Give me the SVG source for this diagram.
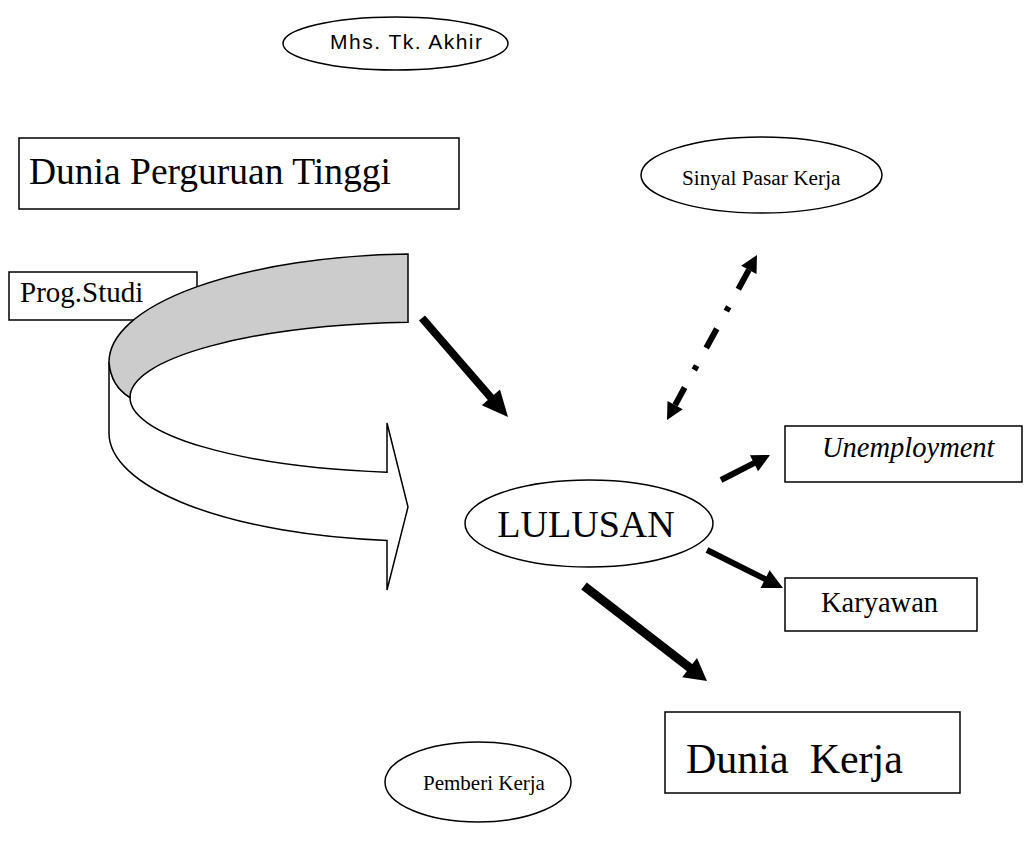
<svg xmlns="http://www.w3.org/2000/svg" width="1025" height="860" viewBox="0 0 1025 860">
<style>
.box{fill:#fff;stroke:#000;stroke-width:1.5}
.ell{fill:#fff;stroke:#000;stroke-width:1.5}
.serif{font-family:"Liberation Serif","Times New Roman",serif;fill:#000}
.sans{font-family:"Liberation Sans",Arial,sans-serif;fill:#000}
.shaft{stroke:#000;fill:none;stroke-linecap:butt}
.head{fill:#000;stroke:none}
.band{stroke:#000;stroke-width:1.5;stroke-linejoin:miter}
</style>
<rect width="1025" height="860" fill="#fff"/>

<g id="mhs-tk-akhir">
  <ellipse class="ell" cx="395.5" cy="43.5" rx="112.5" ry="26.5"/>
  <text class="sans" x="330" y="49" font-size="21" textLength="152">Mhs. Tk. Akhir</text>
</g>

<g id="dunia-perguruan-tinggi">
  <rect class="box" x="19" y="138" width="440" height="71"/>
  <text class="serif" x="29" y="184" font-size="37.5">Dunia Perguruan Tinggi</text>
</g>

<g id="sinyal-pasar-kerja">
  <ellipse class="ell" cx="761.5" cy="175" rx="120.5" ry="38"/>
  <text class="serif" x="682" y="185" font-size="21.3">Sinyal Pasar Kerja</text>
</g>

<g id="prog-studi">
  <rect class="box" x="9" y="272" width="188" height="48"/>
  <text class="serif" x="20" y="302" font-size="29">Prog.Studi</text>
</g>

<g id="curved-arrow">
  <path class="band" fill="#fff" d="M109,362 Q111,386 130,397.5 A300 75.5 0 0 0 387,472.2 L387,423 L408,507 L387,590 L387,540.4 A311 108 0 0 1 109,433 Z"/>
  <path class="band" fill="#cccccc" d="M408,254.1 A311 108 0 0 0 109,362 Q111,386 130,397.5 A300 75.5 0 0 1 408,322.2 Z"/>
</g>

<g id="lulusan">
  <ellipse class="ell" cx="589" cy="523.5" rx="124" ry="43.5"/>
  <text class="serif" x="586" y="537" font-size="38" text-anchor="middle">LULUSAN</text>
</g>

<g id="unemployment">
  <rect class="box" x="785" y="426" width="237" height="56"/>
  <text class="serif" x="822" y="457" font-size="28.5" font-style="italic">Unemployment</text>
</g>

<g id="karyawan">
  <rect class="box" x="785" y="578" width="192" height="53"/>
  <text class="serif" x="821" y="612" font-size="28.5">Karyawan</text>
</g>

<g id="dunia-kerja">
  <rect class="box" x="665" y="712" width="295" height="81"/>
  <text class="serif" x="686" y="773" font-size="42" xml:space="preserve">Dunia  Kerja</text>
</g>

<g id="pemberi-kerja">
  <ellipse class="ell" cx="478" cy="782" rx="93" ry="40"/>
  <text class="serif" x="423" y="790" font-size="21">Pemberi Kerja</text>
</g>

<g id="connectors">
  <line class="shaft" x1="422" y1="318" x2="493" y2="400" stroke-width="8"/>
  <polygon class="head" points="508,417 481.8,405.3 500,389.5"/>

  <line class="shaft" x1="584" y1="586" x2="692" y2="669.5" stroke-width="9"/>
  <polygon class="head" points="707,681 682.2,677.2 697,658"/>

  <line class="shaft" x1="721" y1="480" x2="756" y2="462.2" stroke-width="6"/>
  <polygon class="head" points="770,455 749.9,455.2 758.1,471.2"/>

  <line class="shaft" x1="707" y1="550" x2="767" y2="580" stroke-width="6"/>
  <polygon class="head" points="783,588 760.6,588 769.6,570.2"/>

  <line class="shaft" x1="748.86" y1="269.93" x2="675.1" y2="405.1" stroke-width="6" stroke-dasharray="22 20 5 20"/>
  <polygon class="head" points="757,255 756.5,274.1 741.2,265.8"/>
  <polygon class="head" points="667,420 682.7,409.3 667.5,400.9"/>
</g>
</svg>
